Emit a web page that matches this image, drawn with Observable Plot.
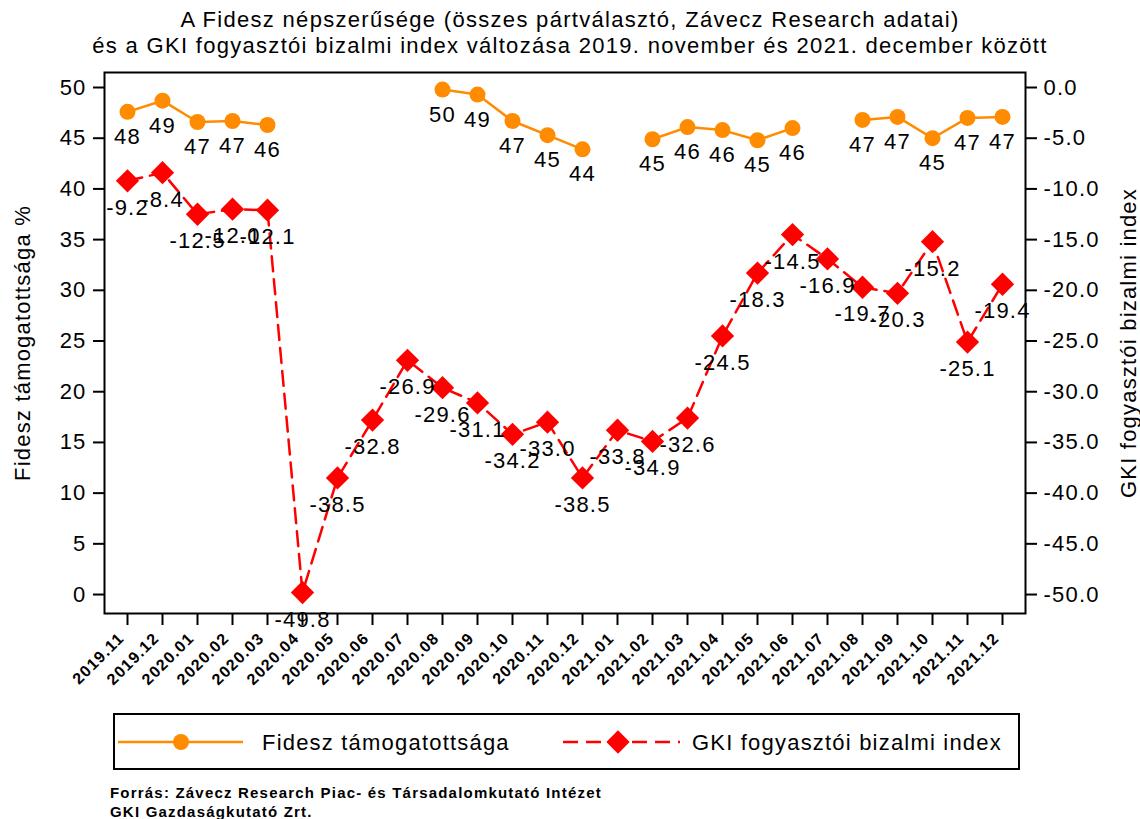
<!DOCTYPE html>
<html>
<head>
<meta charset="utf-8">
<script src="https://cdn.jsdelivr.net/npm/d3@7"></script>
<script src="https://cdn.jsdelivr.net/npm/@observablehq/plot@0.6"></script>
<style>
body{margin:0;background:#fff;font-family:"Liberation Sans",Arial,sans-serif;color:#000;}
#wrap{position:relative;width:1140px;height:819px;overflow:hidden;}
#title{position:absolute;top:7px;left:0;width:1140px;text-align:center;font-size:22px;line-height:26px;letter-spacing:1.3px;}
#chart{position:absolute;top:62px;left:0;}
#legend{position:absolute;left:113px;top:713px;width:903px;height:53px;border:2px solid #000;}
#source{position:absolute;left:110px;top:783px;font-size:15px;font-weight:bold;line-height:19px;letter-spacing:1.2px;}
</style>
</head>
<body>
<div id="wrap">
  <div id="title">A Fidesz népszerűsége (összes pártválasztó, Závecz Research adatai)<br>és a GKI fogyasztói bizalmi index változása 2019. november és 2021. december között</div>
  <div id="chart"></div>
  <div id="legend"></div>
  <div id="source">Forrás: Závecz Research Piac- és Társadalomkutató Intézet<br>GKI Gazdaságkutató Zrt.</div>
</div>
<script>
const months = ["2019.11","2019.12","2020.01","2020.02","2020.03","2020.04","2020.05","2020.06","2020.07","2020.08","2020.09","2020.10","2020.11","2020.12","2021.01","2021.02","2021.03","2021.04","2021.05","2021.06","2021.07","2021.08","2021.09","2021.10","2021.11","2021.12"];
const fidesz = [47.6,48.7,46.6,46.7,46.3,null,null,null,null,49.8,49.3,46.7,45.3,43.9,null,44.9,46.1,45.8,44.8,46.0,null,46.8,47.1,45.0,47.0,47.1];
const fideszLabel = [48,49,47,47,46,null,null,null,null,50,49,47,45,44,null,45,46,46,45,46,null,47,47,45,47,47];
const gki = [-9.2,-8.4,-12.5,-12.0,-12.1,-49.8,-38.5,-32.8,-26.9,-29.6,-31.1,-34.2,-33.0,-38.5,-33.8,-34.9,-32.6,-24.5,-18.3,-14.5,-16.9,-19.7,-20.3,-15.2,-25.1,-19.4];
const leftTicks = [0,5,10,15,20,25,30,35,40,45,50];
const rightTicks = [0,-5,-10,-15,-20,-25,-30,-35,-40,-45,-50];
const seriesNames = ["Fidesz támogatottsága","GKI fogyasztói bizalmi index"];
const axisTitles = ["Fidesz támogatottsága %","GKI fogyasztói bizalmi index"];

const ORANGE = "#ff8c00";
const RED = "#ff0000";
const OFFSET = 50; // right axis = left axis - 50

const data = months.map((m,i)=>({month:m, fidesz:fidesz[i], flabel:fideszLabel[i], gki:gki[i]}));
const fData = data.filter(d=>d.fidesz!=null);

const chart = Plot.plot({
  width:1140, height:650,
  marginTop:10, marginBottom:99, marginLeft:104, marginRight:115,
  style:{fontFamily:'"Liberation Sans", Arial, sans-serif', fontSize:"22px", letterSpacing:"1.2px", color:"#000", background:"#fff", overflow:"visible"},
  x:{type:"point", domain:months, padding:0.53, label:null},
  y:{domain:[-1.87,51.48], label:null},
  marks:[
    Plot.axisY(leftTicks, {anchor:"left", tickSize:11, tickPadding:7, strokeWidth:2, label:null}),
    Plot.axisY(rightTicks.map(v=>v+OFFSET), {anchor:"right", tickSize:11, tickPadding:7, strokeWidth:2, label:null, tickFormat:d=>(d-OFFSET).toFixed(1)}),
    Plot.axisX(months, {anchor:"bottom", tickSize:12, strokeWidth:2, tickFormat:()=>"", label:null}),
    Plot.axisX(months, {anchor:"bottom", tickSize:0, tickPadding:22, tickRotate:-45, dx:-6, fontSize:16, fontWeight:"bold", label:null, style:{letterSpacing:"0.6px"}}),
    Plot.text([axisTitles[0]], {text:d=>d, frameAnchor:"left", textAnchor:"middle", rotate:-90, dx:-82}),
    Plot.text([axisTitles[1]], {text:d=>d, frameAnchor:"right", textAnchor:"middle", rotate:-90, dx:103}),
    Plot.line(data, {x:"month", y:"fidesz", stroke:ORANGE, strokeWidth:2.5}),
    Plot.dot(fData, {x:"month", y:"fidesz", r:8, fill:ORANGE}),
    Plot.line(data, {x:"month", y:d=>d.gki+OFFSET, stroke:RED, strokeWidth:2.5, strokeDasharray:"15,8"}),
    Plot.dot(data, {x:"month", y:d=>d.gki+OFFSET, symbol:"diamond2", r:10.5, fill:RED}),
    Plot.text(fData, {x:"month", y:"fidesz", text:d=>String(d.flabel), dy:25, fill:"#000"}),
    Plot.text(data, {x:"month", y:d=>d.gki+OFFSET, text:d=>d.gki.toFixed(1), dy:27, fill:"#000"}),
    Plot.frame({stroke:"#000", strokeWidth:2})
  ]
});
document.getElementById("chart").appendChild(chart);

// legend
const lg = d3.select("#legend").append("svg").attr("width",903).attr("height",53)
  .style("font-family",'"Liberation Sans", Arial, sans-serif').style("font-size","22px").style("letter-spacing","1.2px");
lg.append("line").attr("x1",3).attr("x2",128).attr("y1",27).attr("y2",27).attr("stroke",ORANGE).attr("stroke-width",2.5);
lg.append("circle").attr("cx",66).attr("cy",27).attr("r",8).attr("fill",ORANGE);
lg.append("text").attr("x",147).attr("y",35).text(seriesNames[0]);
lg.append("line").attr("x1",448).attr("x2",565).attr("y1",27).attr("y2",27).attr("stroke",RED).attr("stroke-width",2.5).attr("stroke-dasharray","15,8");
lg.append("path").attr("d",d3.symbol(d3.symbolDiamond2, Math.PI*10.5*10.5)()).attr("transform","translate(503,27)").attr("fill",RED);
lg.append("text").attr("x",577).attr("y",35).text(seriesNames[1]);
</script>
</body>
</html>
